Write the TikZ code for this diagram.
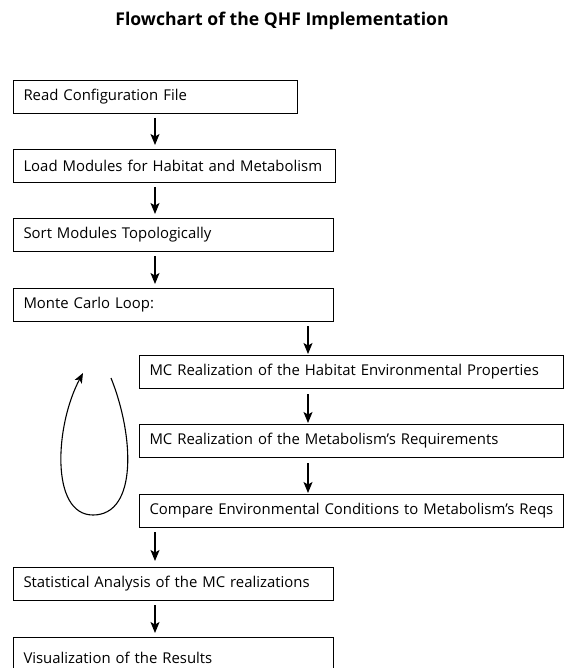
\documentclass[tikz,border=0pt]{standalone}
\usepackage{fontspec}
\setmainfont{Open Sans}
\usetikzlibrary{arrows.meta}
\begin{document}
\begin{tikzpicture}[x=1pt,y=-1pt,
  box/.style={draw, line width=1pt, anchor=north west, inner xsep=10pt, inner ysep=0pt,
    align=left, minimum height=33pt, font=\fontsize{14.9}{17}\selectfont},
  arr/.style={line width=1.3pt, -{Stealth[length=11pt,width=9pt,inset=2.5pt]}},
  looparr/.style={line width=1.1pt, -{Stealth[length=10pt,width=8pt,inset=2.5pt]}}]
\useasboundingbox (0,0) rectangle (564,668);
\node[font=\bfseries\fontsize{17.6}{21}\selectfont] (title) at (282,21) {Flowchart of the QHF Implementation};
\node[box, text width=264pt] (b1) at (13,80) {Read Configuration File};
\node[box, text width=302pt] (b2) at (13,149) {Load Modules for Habitat and Metabolism};
\node[box, text width=300pt] (b3) at (13,218) {Sort Modules Topologically};
\node[box, text width=300pt] (b4) at (13,288) {Monte Carlo Loop:};
\node[box, text width=404pt] (b5) at (139,355) {MC Realization of the Habitat Environmental Properties};
\node[box, text width=404pt] (b6) at (139,424) {MC Realization of the Metabolism’s Requirements};
\node[box, text width=404pt] (b7) at (139,494) {Compare Environmental Conditions to Metabolism’s Reqs};
\node[box, text width=300pt] (b8) at (13,567) {Statistical Analysis of the MC realizations};
\node[box, text width=300pt, minimum height=40pt] (b9) at (13,637) {Visualization of the Results};
\coordinate (xl) at (155,0);
\coordinate (xr) at (308,0);
\draw[arr] ([yshift=-4pt]b1.south -| xl) -- ([yshift=4pt]b2.north -| xl);
\draw[arr] ([yshift=-4pt]b2.south -| xl) -- ([yshift=4pt]b3.north -| xl);
\draw[arr] ([yshift=-4pt]b3.south -| xl) -- ([yshift=4pt]b4.north -| xl);
\draw[arr] ([yshift=-4pt]b4.south -| xr) -- ([yshift=1pt]b5.north -| xr);
\draw[arr] ([yshift=-5pt]b5.south -| xr) -- ([yshift=1pt]b6.north -| xr);
\draw[arr] ([yshift=-5pt]b6.south -| xr) -- ([yshift=1pt]b7.north -| xr);
\draw[arr] ([yshift=-4pt]b7.south -| xl) -- ([yshift=6pt]b8.north -| xl);
\draw[arr] ([yshift=-4pt]b8.south -| xl) -- ([yshift=4pt]b9.north -| xl);
\coordinate (ls) at (111,378);
\coordinate (lb) at (93,515);
\coordinate (le) at (83,373);
\draw[looparr] (ls) .. controls (134,435) and (138,515) .. (lb) .. controls (50,515) and (55,425) .. (le);
\end{tikzpicture}
\end{document}
